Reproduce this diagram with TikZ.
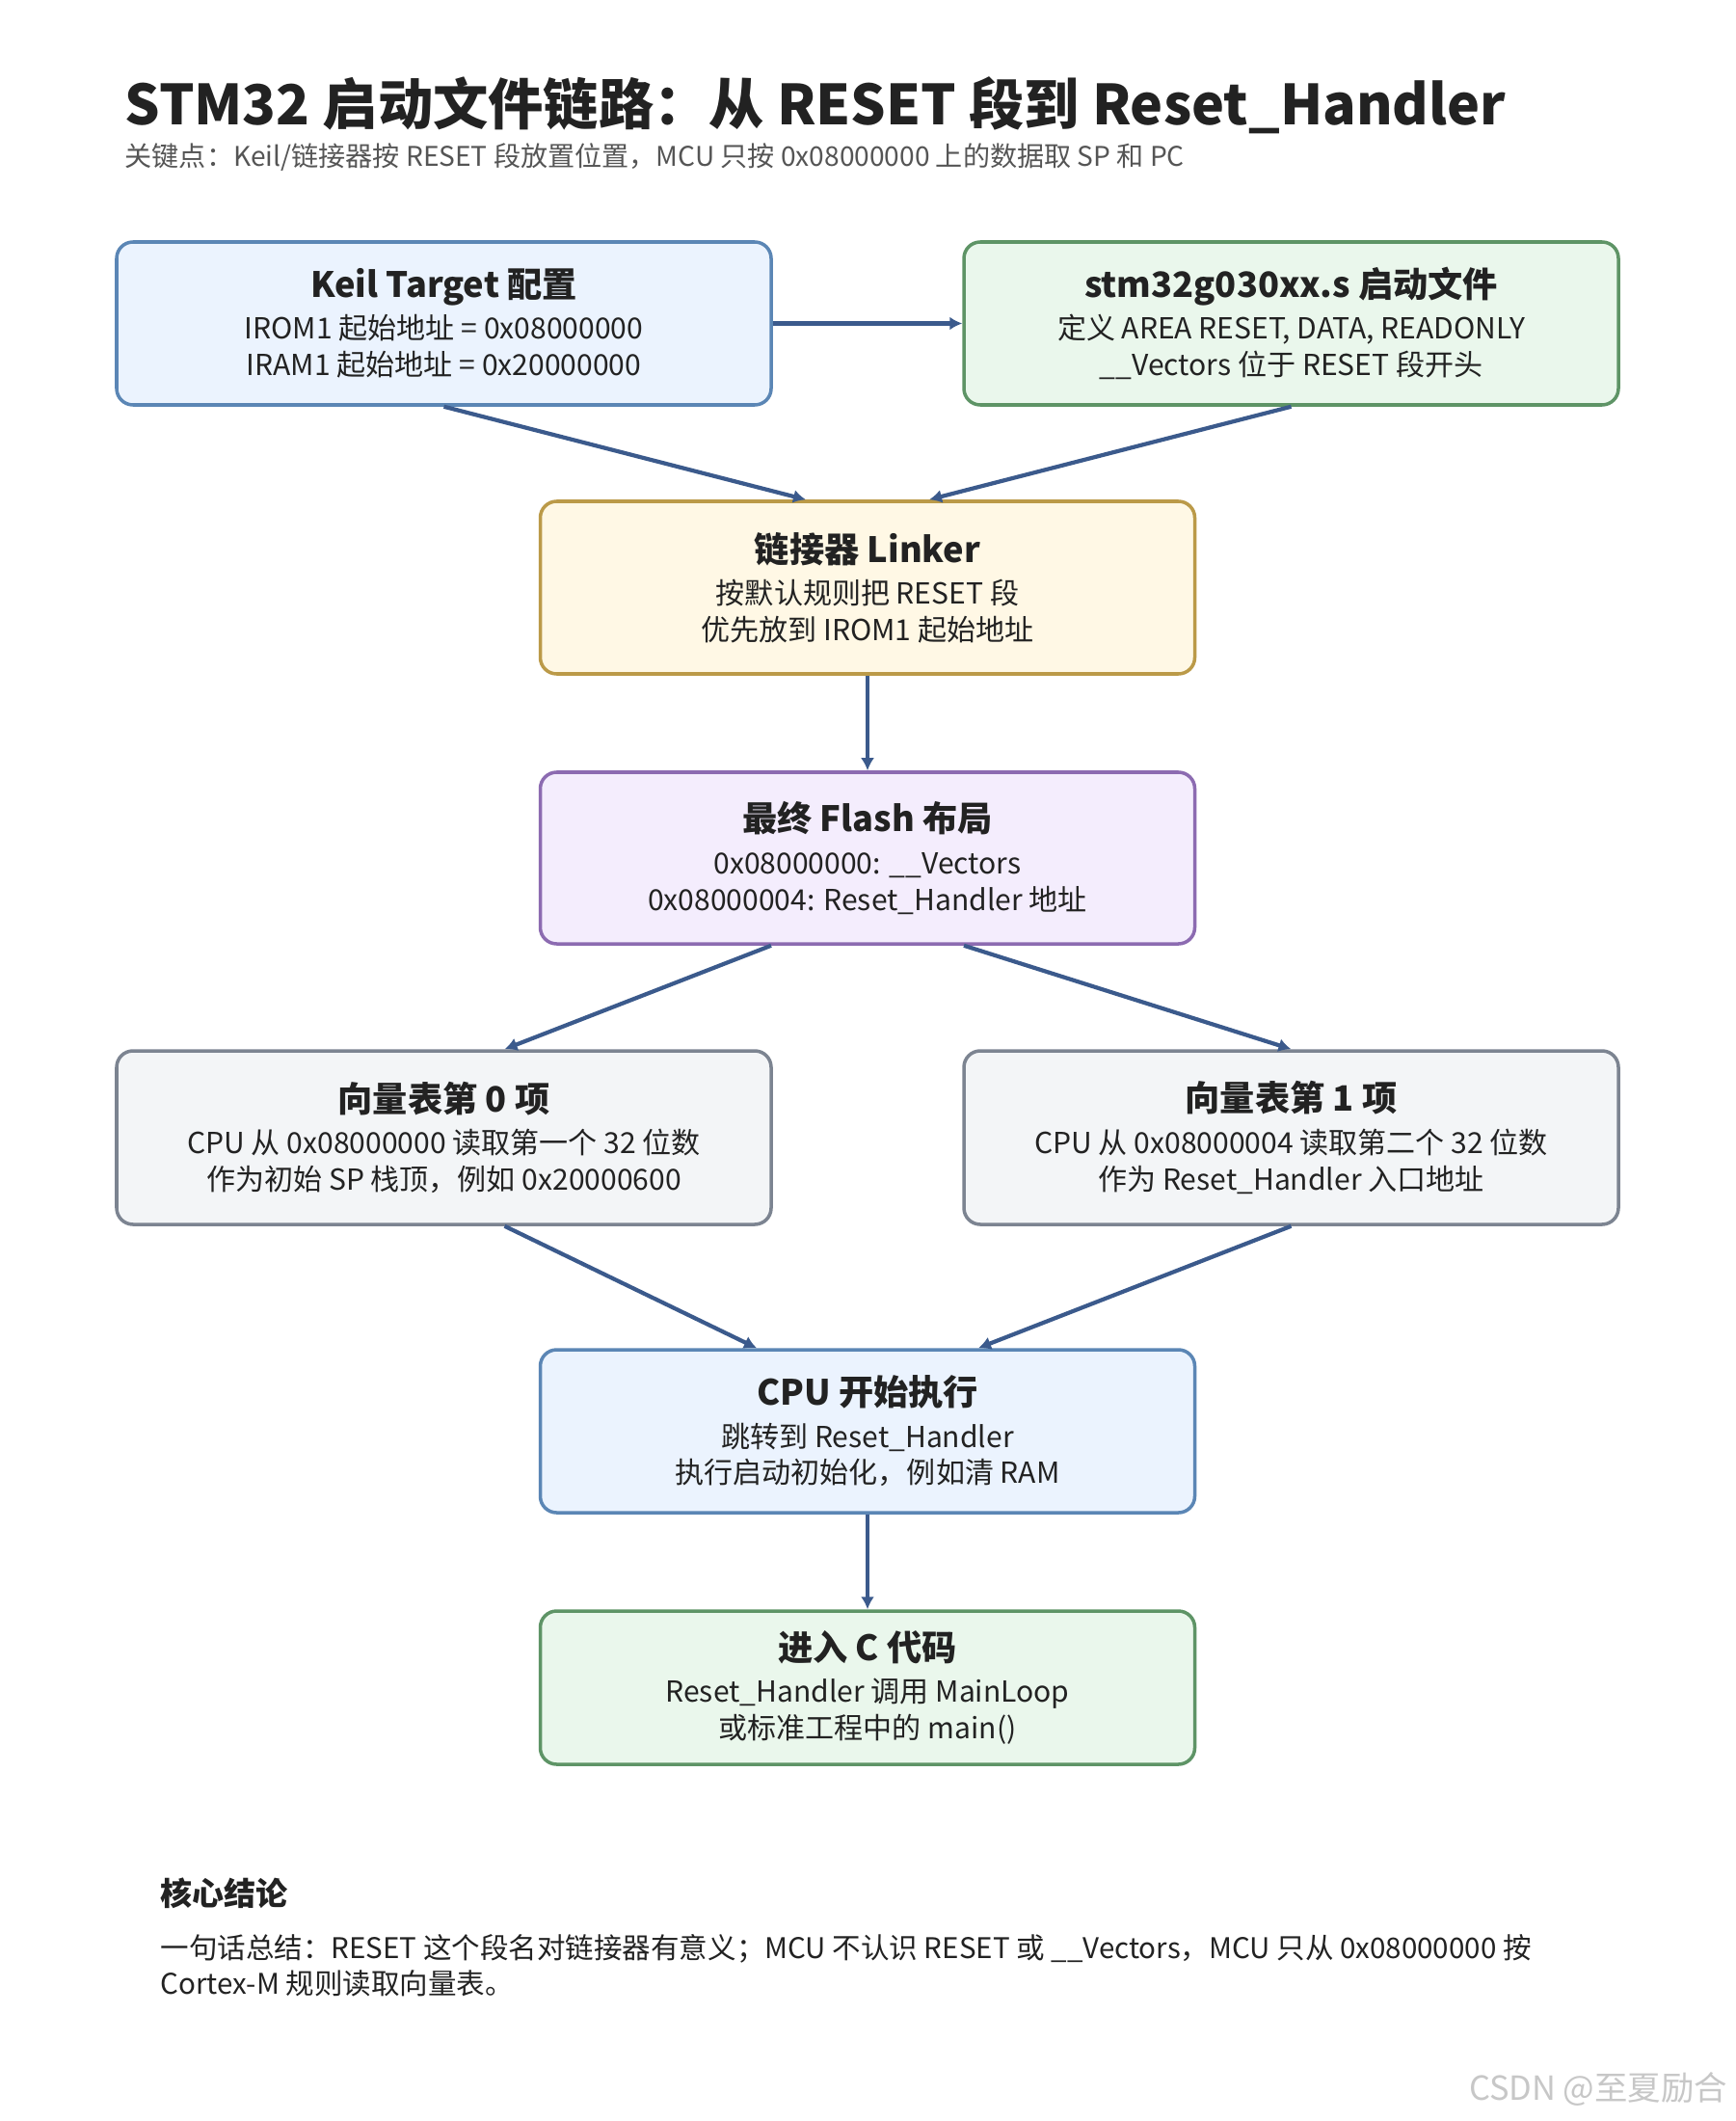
\documentclass[tikz,border=0pt]{standalone}
\usepackage{fontspec}
\setmainfont{Noto Sans CJK SC}
\usetikzlibrary{arrows.meta,positioning}
\definecolor{ink}{RGB}{34,34,34}
\definecolor{subink}{RGB}{85,85,85}
\definecolor{arrblue}{RGB}{59,90,140}
\definecolor{blueline}{RGB}{91,134,181}
\definecolor{bluefill}{RGB}{235,243,254}
\definecolor{greenline}{RGB}{94,148,102}
\definecolor{greenfill}{RGB}{234,247,236}
\definecolor{goldline}{RGB}{187,154,72}
\definecolor{goldfill}{RGB}{255,248,229}
\definecolor{purpleline}{RGB}{140,107,177}
\definecolor{purplefill}{RGB}{244,237,253}
\definecolor{grayline}{RGB}{124,132,145}
\definecolor{grayfill}{RGB}{243,245,247}
\newcommand{\hd}[1]{{\bfseries\fontsize{10.3}{13}\selectfont #1}\\[1.5pt]}

\begin{document}
\begin{tikzpicture}[
      box/.style={draw=blueline,fill=bluefill,rounded corners=0.17cm,line width=1pt,
        minimum width=6.79cm,minimum height=1.69cm,align=center,text=ink,
        font=\fontsize{8.55}{10.8}\selectfont},
      arr/.style={-{Latex[length=1.3mm,width=1.4mm]},line width=1.2pt,arrblue}]
    \useasboundingbox[fill=white] (0,0) rectangle (18,-22);
    % heading
    \node[anchor=west,inner sep=0pt,text=ink,font=\bfseries\fontsize{16.3}{19}\selectfont] (title)
      at (1.29,-1.09) {STM32 启动文件链路：从 RESET 段到 Reset\_Handler};
    \node[anchor=west,inner sep=0pt,text=subink,font=\fontsize{8}{9}\selectfont] (sub) at (1.29,-1.63)
      {关键点：Keil/链接器按 RESET 段放置位置，MCU 只按 0x08000000 上的数据取 SP 和 PC};
    % boxes
    \node[box] (keil) at (4.605,-3.355)
      {\hd{Keil Target 配置}IROM1 起始地址 = 0x08000000\\IRAM1 起始地址 = 0x20000000};
    \node[box,draw=greenline,fill=greenfill] (startup) at (13.395,-3.355)
      {\hd{stm32g030xx.s 启动文件}定义 AREA RESET, DATA, READONLY\\\_\_Vectors 位于 RESET 段开头};
    \node[box,draw=goldline,fill=goldfill,minimum height=1.79cm] (linker) at (9,-6.095)
      {\hd{链接器 Linker}按默认规则把 RESET 段\\优先放到 IROM1 起始地址};
    \node[box,draw=purpleline,fill=purplefill,minimum height=1.78cm] (flash) at (9,-8.9)
      {\hd{最终 Flash 布局}0x08000000: \_\_Vectors\\0x08000004: Reset\_Handler 地址};
    \node[box,draw=grayline,fill=grayfill,minimum height=1.8cm] (vec0) at (4.605,-11.8)
      {\hd{向量表第 0 项}CPU 从 0x08000000 读取第一个 32 位数\\作为初始 SP 栈顶，例如 0x20000600};
    \node[box,draw=grayline,fill=grayfill,minimum height=1.8cm] (vec1) at (13.395,-11.8)
      {\hd{向量表第 1 项}CPU 从 0x08000004 读取第二个 32 位数\\作为 Reset\_Handler 入口地址};
    \node[box] (cpu) at (9,-14.845)
      {\hd{CPU 开始执行}跳转到 Reset\_Handler\\执行启动初始化，例如清 RAM};
    \node[box,draw=greenline,fill=greenfill,minimum height=1.59cm] (cmain) at (9,-17.505)
      {\hd{进入 C 代码}Reset\_Handler 调用 MainLoop\\或标准工程中的 main()};
    % arrows
    \draw[arr] (keil) -- (startup);
    \draw[arr] (keil.south) -- ([xshift=-0.64cm]linker.north);
    \draw[arr] (startup.south) -- ([xshift=0.64cm]linker.north);
    \draw[arr] (linker) -- (flash);
    \draw[arr] ([xshift=-1cm]flash.south) -- ([xshift=0.63cm]vec0.north);
    \draw[arr] ([xshift=1cm]flash.south) -- (vec1.north);
    \draw[arr] ([xshift=0.63cm]vec0.south) -- ([xshift=-1.15cm]cpu.north);
    \draw[arr] (vec1.south) -- ([xshift=1.15cm]cpu.north);
    \draw[arr] (cpu) -- (cmain);
    % summary
    \node[anchor=west,inner sep=0pt,text=ink,font=\bfseries\fontsize{9.4}{11}\selectfont] (sumhead) at (1.66,-19.64) {核心结论};
    \node[anchor=west,inner sep=0pt,align=left,text=ink,font=\fontsize{8.4}{10.6}\selectfont] (sumtext) at (1.66,-20.385)
      {一句话总结：RESET 这个段名对链接器有意义；MCU 不认识 RESET 或 \_\_Vectors，MCU 只从 0x08000000 按\\Cortex-M 规则读取向量表。};
    \node[anchor=east,inner sep=0pt,text=black!22,font=\fontsize{9.8}{11}\selectfont] (mark) at (17.93,-21.67) {CSDN @至夏励合};
\end{tikzpicture}
\end{document}
